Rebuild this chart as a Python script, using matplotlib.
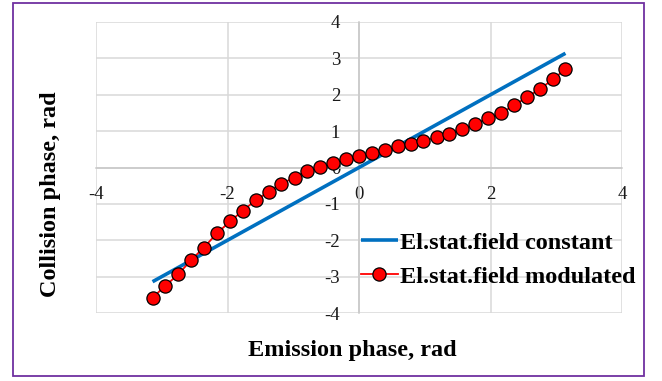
import numpy as np
import matplotlib
matplotlib.use("Agg")
import matplotlib.pyplot as plt
from matplotlib.patches import Rectangle

plt.rcParams['axes.unicode_minus'] = False

# Data
emission_const = [-3.14, 3.14]
collision_const = [-3.14, 3.14]

emission_mod = [-3.14, -2.95, -2.75, -2.55, -2.36, -2.16, -1.96, -1.77, -1.57, -1.37,
                -1.18, -0.98, -0.79, -0.59, -0.39, -0.20, 0.00, 0.20, 0.39, 0.59,
                0.79, 0.98, 1.18, 1.37, 1.57, 1.77, 1.96, 2.16, 2.36, 2.55,
                2.75, 2.95, 3.14]
collision_mod = [-3.58, -3.26, -2.94, -2.54, -2.20, -1.81, -1.48, -1.19, -0.90, -0.66,
                 -0.44, -0.28, -0.09, 0.02, 0.13, 0.22, 0.32, 0.40, 0.48, 0.58,
                 0.64, 0.73, 0.83, 0.93, 1.06, 1.19, 1.36, 1.50, 1.71, 1.93,
                 2.16, 2.42, 2.71]

x_ticks = [-4, -2, 0, 2, 4]
y_ticks = [-4, -3, -2, -1, 0, 1, 2, 3, 4]

W, H = 662, 381
fig = plt.figure(figsize=(W / 100, H / 100), dpi=100)
ax = fig.add_axes([96 / W, 1 - 313 / H, (622 - 96) / W, (313 - 22) / H])

serif = 'Liberation Serif'
grid_c = '#d9d9d9'

ax.set_xlim(-4, 4)
ax.set_ylim(-4, 4)
ax.set_xticks(x_ticks)
ax.set_yticks(y_ticks)
ax.grid(True, color=grid_c, linewidth=1.1)
ax.set_axisbelow(True)

for s in ['top', 'right']:
    ax.spines[s].set_visible(False)
ax.spines['left'].set_position(('data', 0))
ax.spines['bottom'].set_position(('data', 0))
for s in ['left', 'bottom']:
    ax.spines[s].set_color('#c8c8c8')
    ax.spines[s].set_linewidth(1.1)

ax.tick_params(axis='both', length=0, labelsize=13.5, labelcolor='#1a1a1a')
ax.tick_params(axis='x', pad=13)
ax.tick_params(axis='y', pad=13.5)
for lab in ax.get_xticklabels() + ax.get_yticklabels():
    lab.set_fontfamily(serif)

ax.plot(emission_const, collision_const, color='#0070c0', linewidth=2.6,
        solid_capstyle='butt', label='El.stat.field constant', zorder=3)
ax.plot(emission_mod, collision_mod, color='#ff0000', linewidth=1.3,
        marker='o', markersize=9.5, markerfacecolor='#ff0000',
        markeredgecolor='#000000', markeredgewidth=0.9,
        label='El.stat.field modulated', zorder=4)

leg = ax.legend(loc='center left', bbox_to_anchor=(361 / W, 1 - 259.7 / H),
                bbox_transform=fig.transFigure, frameon=False,
                borderpad=0, borderaxespad=0, handlelength=1.52,
                handletextpad=0.1, labelspacing=0.5,
                prop={'family': serif, 'weight': 'bold', 'size': 17.5})

fig.text(352.4 / W, 1 - 356 / H, 'Emission phase, rad', ha='center', va='baseline',
         fontfamily=serif, fontweight='bold', fontsize=17.5)
fig.text(51 / W, 1 - 194.5 / H, 'Collision phase, rad', ha='center', va='center',
         rotation=90, fontfamily=serif, fontweight='bold', fontsize=17.5)

fig.patches.append(Rectangle((13 / W, 1 - 376 / H), (644 - 13) / W, (376 - 3) / H,
                             transform=fig.transFigure, fill=False,
                             edgecolor='#7030a0', linewidth=1.3))

fig.savefig('out.png', dpi=100)
